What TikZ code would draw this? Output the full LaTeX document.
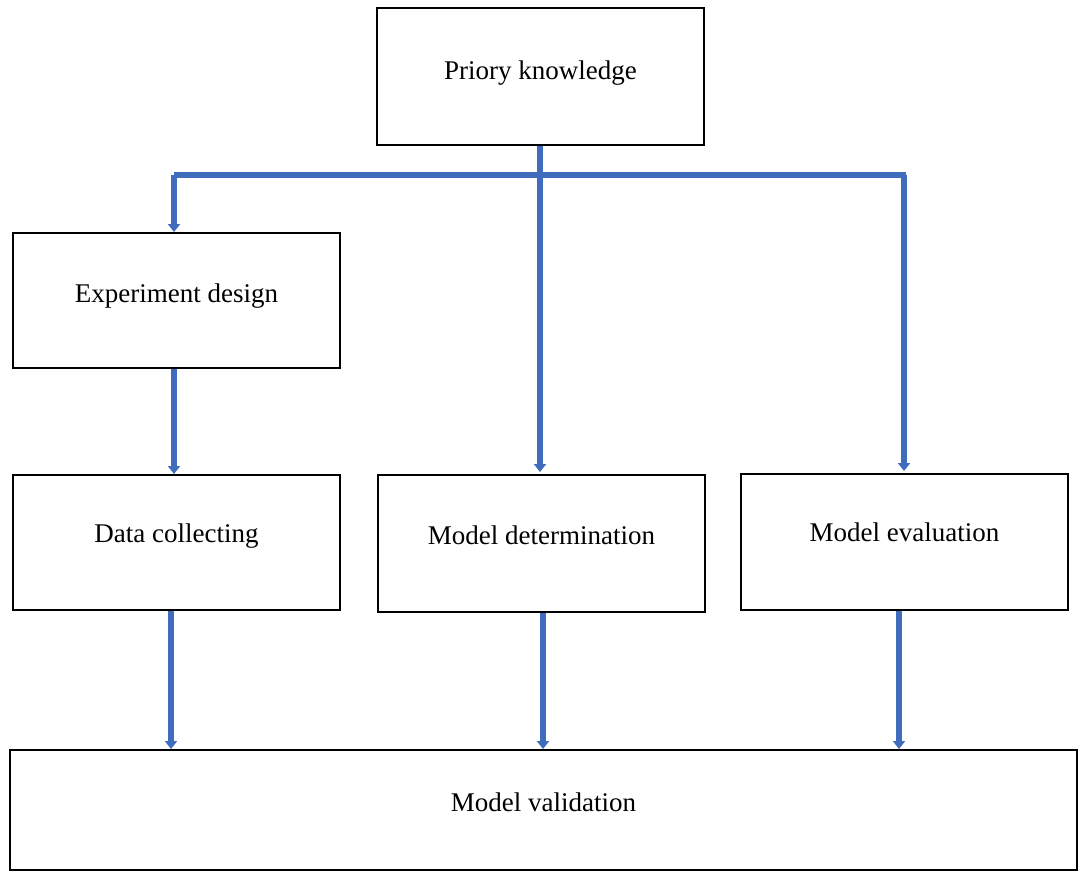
\documentclass[tikz,border=0pt]{standalone}
\usepackage{fontspec}
\setmainfont{Liberation Serif}
\usetikzlibrary{arrows.meta}
\definecolor{flowblue}{RGB}{64,108,190}
% lift a label without changing the box size used for centring
\newcommand{\liftlabel}[2]{\raisebox{#1}[\height][\depth]{#2}}
\begin{document}
\begin{tikzpicture}[x=0.5pt,y=-0.5pt,
  box/.style={draw=black, line width=1pt, fill=white,
    minimum width=163.5pt, minimum height=#1, inner sep=0pt,
    font=\fontsize{13.5}{16}\selectfont},
  box/.default=68pt,
  flow/.style={draw=flowblue, line width=3pt,
    -{Triangle[width=6pt,length=4pt]}},
  bar/.style={draw=flowblue, line width=3pt, line join=miter}]
\useasboundingbox (0,0) rectangle (1079,872);

% process boxes (labels sit a little above the middle)
\node[box=68.5pt] (prior) at (540.5,76.5) {\liftlabel{1.5pt}{Priory knowledge}};
\node[box=67.5pt] (design) at (176.5,300.5) {\liftlabel{2pt}{Experiment design}};
\node[box=67.5pt] (data) at (176.5,542.5) {\liftlabel{3pt}{Data collecting}};
\node[box=68.5pt] (determ) at (541.5,543.5) {\liftlabel{4pt}{Model determination}};
\node[box=68pt] (evalu) at (904.5,542) {\liftlabel{5pt}{Model evaluation}};
\node[box=60pt, minimum width=533.5pt] (valid) at (543.5,810) {\liftlabel{4pt}{Model validation}};

% distribution from prior knowledge
\draw[bar] (174,175) -- (906,175);
\draw[flow] (prior.south) ++(-0.5,0) -- (540,472);
\draw[flow] (174,175) -- (174,232);
\draw[flow] (904,175) -- (904,471);

% design to data collection
\draw[flow] (design.south) ++(-2.5,0) -- (174,474);

% into model validation
\draw[flow] ([xshift=-2.75pt]data.south) -- ([xshift=-2.75pt]data.south |- valid.north);
\draw[flow] ([xshift=0.75pt]determ.south) -- ([xshift=0.75pt]determ.south |- valid.north);
\draw[flow] ([xshift=-2.75pt]evalu.south) -- ([xshift=-2.75pt]evalu.south |- valid.north);
\end{tikzpicture}
\end{document}
